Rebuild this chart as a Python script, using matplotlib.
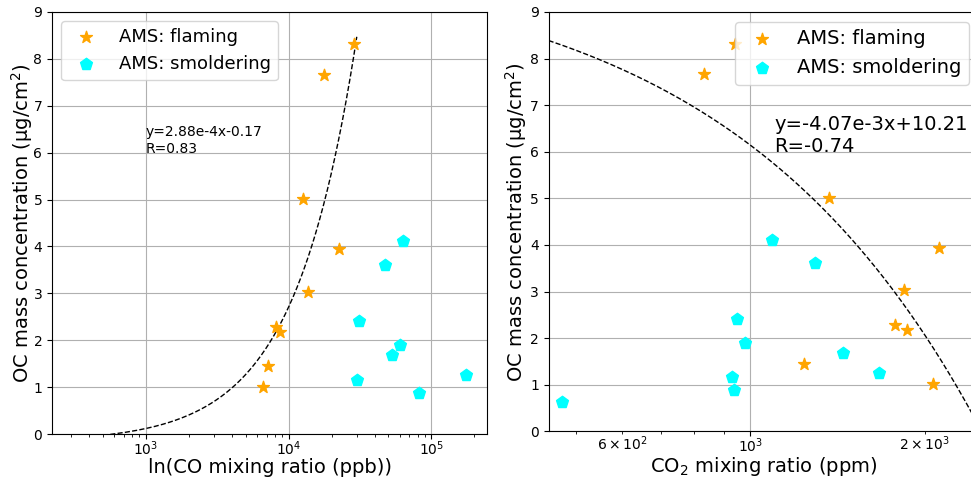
import numpy as np
import matplotlib
matplotlib.use("Agg")
import matplotlib.pyplot as plt

# OC mass concentration (ug/cm2)
flaming_oc = [8.31, 7.66, 5.01, 3.94, 3.03, 2.29, 2.18, 1.44, 1.01]
smoldering_oc_co = [4.12, 3.61, 2.40, 1.90, 1.68, 1.15, 0.87, 1.26]
smoldering_oc_co2 = [4.11, 3.61, 2.40, 1.90, 1.69, 1.17, 0.88, 1.26, 0.63]

# CO mixing ratio (ppb)
flaming_co = [28500, 17600, 12600, 22400, 13700, 8100, 8750, 7110, 6600]
smoldering_co = [63000, 47000, 30900, 60200, 53300, 29900, 82400, 175000]

# CO2 mixing ratio (ppm)
flaming_co2 = [940, 830, 1368, 2120, 1841, 1780, 1862, 1239, 2065]
smoldering_co2 = [1091, 1295, 947, 980, 1443, 930, 936, 1670, 473]

co_fit = (2.88e-4, -0.17, 0.83)
co2_fit = (-4.07e-3, 10.21, -0.74)

fig = plt.figure(figsize=(9.71, 4.78), dpi=100)
ax1 = fig.add_axes([0.0536, 0.092, 0.4479, 0.883])
ax2 = fig.add_axes([0.565, 0.0977, 0.443, 0.8773])

# left: CO
ax1.scatter(flaming_co, flaming_oc, marker="*", s=80, c="orange", label="AMS: flaming", zorder=3)
ax1.scatter(smoldering_co, smoldering_oc_co, marker="p", s=80, c="cyan", label="AMS: smoldering", zorder=3)
x = np.linspace(500, 30000, 400)
ax1.plot(x, co_fit[0] * x + co_fit[1], "k--", linewidth=1)
ax1.text(1000, 6, f"y={co_fit[0]:.2e}x{co_fit[1]:+.2f}\nR={co_fit[2]:.2f}".replace("e-04", "e-4"), fontsize=10)
ax1.set_xscale("log")
ax1.set_xlim(220, 245000)
ax1.set_ylim(0, 9)
ax1.set_xlabel("ln(CO mixing ratio (ppb))", fontsize=14, labelpad=0)
ax1.set_ylabel("OC mass concentration (μg/cm$^2$)", fontsize=14, labelpad=-1)
ax1.legend(loc="upper left", fontsize=13)

# right: CO2
ax2.scatter(flaming_co2, flaming_oc, marker="*", s=80, c="orange", label="AMS: flaming", zorder=3)
ax2.scatter(smoldering_co2, smoldering_oc_co2, marker="p", s=80, c="cyan", label="AMS: smoldering", zorder=3)
x = np.linspace(448, 2480, 400)
ax2.plot(x, co2_fit[0] * x + co2_fit[1], "k--", linewidth=1)
ax2.text(1100, 6, f"y={co2_fit[0]:.2e}x{co2_fit[1]:+.2f}\nR={co2_fit[2]:.2f}".replace("e-03", "e-3"), fontsize=14)
ax2.set_xscale("log")
ax2.set_xlim(448, 2480)
ax2.set_ylim(0, 9)
ax2.set_xlabel("CO$_2$ mixing ratio (ppm)", fontsize=14, labelpad=0)
ax2.set_ylabel("OC mass concentration (μg/cm$^2$)", fontsize=14, labelpad=1)
ax2.legend(loc="upper right", fontsize=14)

for ax in (ax1, ax2):
    ax.grid(True)
    ax.tick_params(labelsize=10)
    ax.tick_params(axis="x", which="both", pad=0.5)

fig.savefig("out.png", dpi=100)
